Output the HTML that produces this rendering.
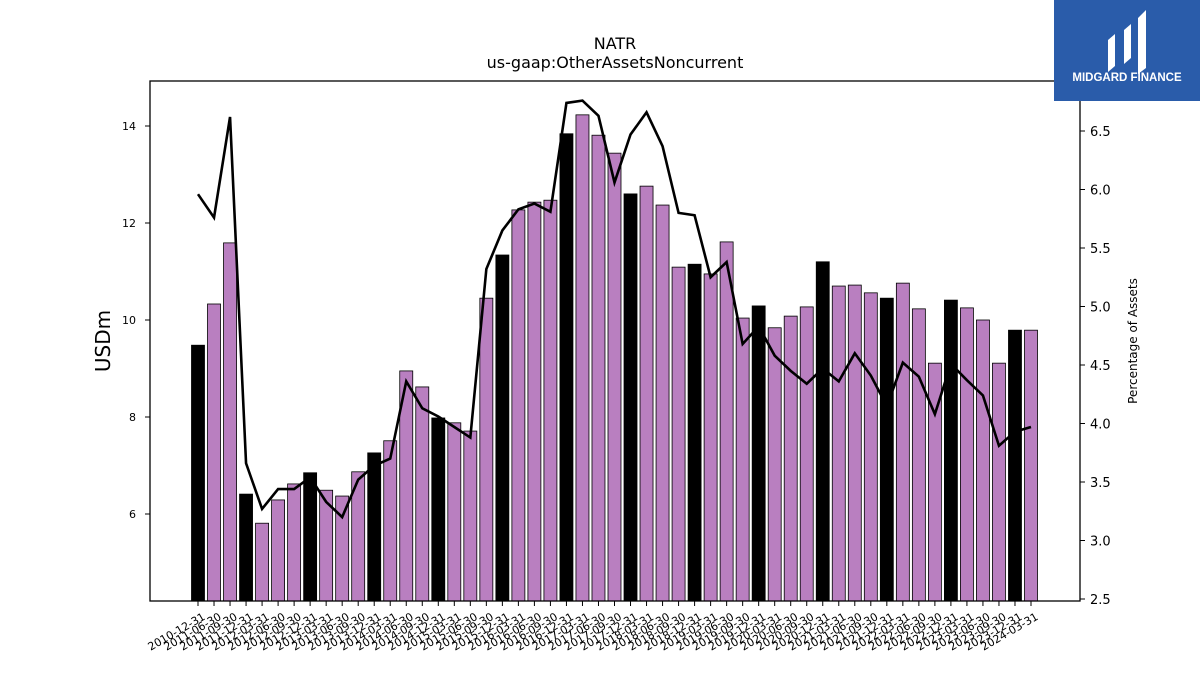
<!DOCTYPE html>
<html><head><meta charset="utf-8"><style>
body{margin:0;background:#fff;font-family:"Liberation Sans","DejaVu Sans",sans-serif}
svg text{font-family:"DejaVu Sans","Liberation Sans",sans-serif}
</style></head><body>
<svg id="c" width="1200" height="675" xmlns="http://www.w3.org/2000/svg">
<rect width="1200" height="675" fill="#fff"/>
<text x="615" y="49" font-size="16" text-anchor="middle">NATR</text>
<text x="615" y="68" font-size="16" text-anchor="middle">us-gaap:OtherAssetsNoncurrent</text>
<g id="bars"></g>
<g id="line"></g>
<rect x="150" y="81" width="930" height="520" fill="none" stroke="#000" stroke-width="1.3"/>
<g id="axes"></g>
<text transform="translate(110,341) rotate(-90)" font-size="20" text-anchor="middle">USDm</text>
<text transform="translate(1137,341) rotate(-90)" font-size="12" text-anchor="middle">Percentage of Assets</text>
<g>
<rect x="1054" y="0" width="146" height="101" fill="#2a5caa"/>
<path d="M1108 40 L1115 34 L1115 66 L1108 72 Z M1124 30 L1131 24 L1131 58 L1124 64 Z M1138 18 L1146 10 L1146 68 L1138 74 Z" fill="#fff"/>
<text x="1127" y="81" font-size="11.5" font-weight="bold" fill="#fff" text-anchor="middle" style="font-family:'Liberation Sans',sans-serif">MIDGARD FINANCE</text>
</g>
</svg>
<script>
const dates=["2010-12-31","2011-06-30","2011-09-30","2011-12-31","2012-03-31","2012-06-30","2012-09-30","2012-12-31","2013-03-31","2013-06-30","2013-09-30","2013-12-31","2014-03-31","2014-06-30","2014-09-30","2014-12-31","2015-03-31","2015-06-30","2015-09-30","2015-12-31","2016-03-31","2016-06-30","2016-09-30","2016-12-31","2017-03-31","2017-06-30","2017-09-30","2017-12-31","2018-03-31","2018-06-30","2018-09-30","2018-12-31","2019-03-31","2019-06-30","2019-09-30","2019-12-31","2020-03-31","2020-06-30","2020-09-30","2020-12-31","2021-03-31","2021-06-30","2021-09-30","2021-12-31","2022-03-31","2022-06-30","2022-09-30","2022-12-31","2023-03-31","2023-06-30","2023-09-30","2023-12-31","2024-03-31"];
const values=[9.48,10.33,11.59,6.41,5.81,6.29,6.62,6.85,6.49,6.37,6.87,7.26,7.51,8.95,8.62,7.98,7.88,7.71,10.45,11.34,12.27,12.43,12.47,13.84,14.23,13.81,13.44,12.60,12.76,12.37,11.09,11.15,10.95,11.61,10.04,10.29,9.84,10.08,10.27,11.20,10.70,10.72,10.56,10.45,10.76,10.23,9.11,10.41,10.25,10.0,9.11,9.79,9.79];
const pct=[5.96,5.76,6.62,3.66,3.27,3.44,3.44,3.54,3.33,3.20,3.52,3.64,3.70,4.36,4.13,4.06,3.97,3.88,5.32,5.65,5.83,5.88,5.81,6.74,6.76,6.63,6.06,6.47,6.66,6.37,5.80,5.78,5.25,5.38,4.68,4.83,4.58,4.45,4.34,4.47,4.36,4.60,4.41,4.15,4.52,4.40,4.08,4.51,4.37,4.24,3.81,3.93,3.97];
const yTicks=[6,8,10,12,14];
const y2Ticks=[2.5,3.0,3.5,4.0,4.5,5.0,5.5,6.0,6.5];
const NS="http://www.w3.org/2000/svg";
const X0=198,X1=1031;
const x=i=>X0+i*(X1-X0)/(dates.length-1);
const y=v=>126+(14-v)*48.5;
const y2=v=>131+(6.5-v)*117;
function mk(t,a,p){const e=document.createElementNS(NS,t);for(const k in a)e.setAttribute(k,a[k]);p.appendChild(e);return e;}
const gb=document.getElementById('bars'),gl=document.getElementById('line'),ga=document.getElementById('axes');
values.forEach((v,i)=>{
 const annual=dates[i].endsWith("12-31");
 const r=mk('rect',{x:x(i)-6.5,y:y(v),width:13,height:601-y(v),fill:annual?'#000':'#b97fc0',stroke:'#000','stroke-width':0.8},gb);
 
 
 const t=mk('line',{x1:x(i),x2:x(i),y1:601,y2:606,stroke:'#000'},ga);
 
 
 const lb=mk('text',{transform:`translate(${x(i)+4},${612}) rotate(-30)`,'font-size':11,'text-anchor':'end','dominant-baseline':'hanging'},ga);
 lb.textContent=dates[i];
 
 
});
const pl=mk('polyline',{points:pct.map((p,i)=>x(i)+','+y2(p)).join(' '),fill:'none',stroke:'#000','stroke-width':2.6},gl);


yTicks.forEach(v=>{
 const t=mk('line',{x1:145,x2:150,y1:y(v),y2:y(v),stroke:'#000'},ga);
 
 
 const l=mk('text',{x:136,y:y(v)+4,'font-size':11,'text-anchor':'end'},ga);l.textContent=v;
 
 
});
y2Ticks.forEach(v=>{
 const t=mk('line',{x1:1080,x2:1085,y1:y2(v),y2:y2(v),stroke:'#000'},ga);
 
 
 const l=mk('text',{x:1090,y:y2(v)+5,'font-size':13},ga);l.textContent=v.toFixed(1);
 
 
});
</script>
</body></html>
